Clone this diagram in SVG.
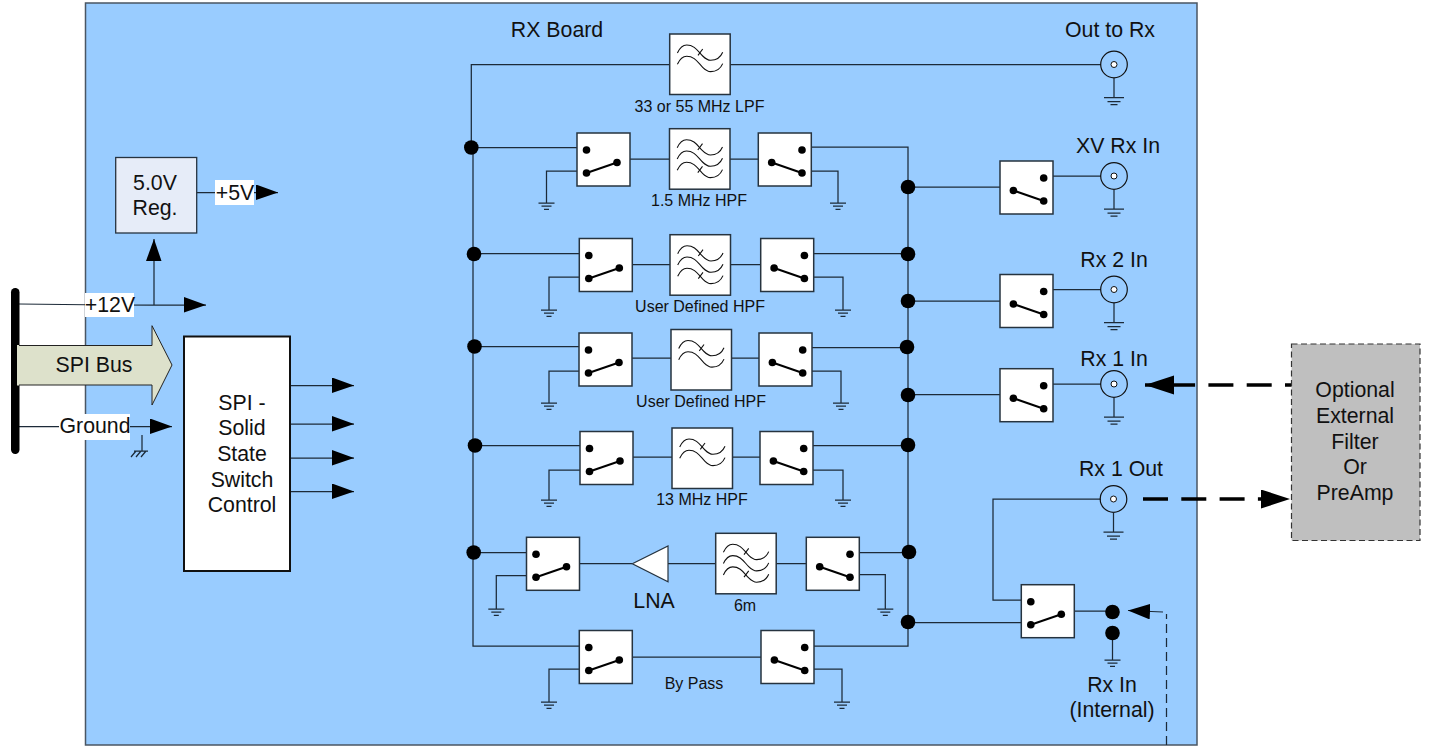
<svg xmlns="http://www.w3.org/2000/svg" width="1429" height="746" viewBox="0 0 1429 746">
<style>
text{font-family:"Liberation Sans",Arial,sans-serif;font-size:21.3px;fill:#111;text-anchor:middle}
text.s{font-size:16px}
.w{fill:none;stroke:#1c2a38;stroke-width:1.25}
.box{fill:#fff;stroke:#26333f;stroke-width:1.5}
.wave{fill:none;stroke:#111;stroke-width:1.1}
.thick{fill:none;stroke:#000;stroke-width:3.4}
.d{fill:#000}
</style>
<defs>
<marker id="arr" markerUnits="userSpaceOnUse" markerWidth="23" markerHeight="16" refX="22" refY="8" orient="auto"><path d="M0 0L22 8L0 15.500Z" fill="#000"/></marker>
<marker id="arrb" markerUnits="userSpaceOnUse" markerWidth="30" markerHeight="20" refX="29" refY="9.500" orient="auto"><path d="M0 0L29 9.500L0 19Z" fill="#000"/></marker>
<g id="swL"><rect class="box" width="53" height="53"/><circle class="d" cx="9.500" cy="17" r="3.800"/><circle class="d" cx="9.500" cy="40" r="3.800"/><circle class="d" cx="40" cy="29.500" r="3.800"/><path d="M9.500 40L40 29.500" stroke="#000" stroke-width="2"/></g>
<g id="swR"><rect class="box" width="53" height="53"/><circle class="d" cx="43.700" cy="17" r="3.800"/><circle class="d" cx="43.700" cy="40" r="3.800"/><circle class="d" cx="13.400" cy="29.500" r="3.800"/><path d="M13.400 29.500L43.700 40" stroke="#000" stroke-width="2"/></g>
<path id="wv" class="wave" d="M7.700 19C10 14 13 11 17 11C25 11 28 17 33 22C36 25 38 26.300 41 26.300C47 26.300 51 23 53 18.300"/>
<g id="f2"><rect class="box" width="60.500" height="60.500"/><use href="#wv"/><use href="#wv" y="11.300"/><path class="wave" d="M28.300 21.300L33 15"/></g>
<g id="f3"><rect class="box" width="60.500" height="60.500"/><use href="#wv"/><use href="#wv" y="11.300"/><use href="#wv" y="22.600"/><path class="wave" d="M28.300 21.300L33 15M28.300 43.900L33 37.600"/></g>
<g id="gnd"><path class="w" d="M-8 0H8M-5 3.200H5M-2.500 6.400H2.500"/></g>
<g id="gndL"><path class="w" d="M-10 0H10M-6.500 4H6.500M-3.500 7H3.500"/></g>
<g id="bnc"><circle r="13.300" fill="none" stroke="#111" stroke-width="1.200"/><path class="w" d="M0 13.300V33"/><use href="#gndL" y="33"/></g>
</defs>

<rect id="board" x="85.500" y="3" width="1111.500" height="742" fill="#99ccff" stroke="#4a5663" stroke-width="1.500"/>

<g id="connectors">
<path class="w" d="M669 64.500H471.300V148M730 64.500H1101"/>
<path class="w" d="M473 148V646H579M814 646H908V147H812"/>
<path class="w" d="M471 147.500H577M630 159H670M730 159H758M577 171H546.500V203M812 171H838V203"/>
<path class="w" d="M474 253.500H579M632 264.500H670M731 264.500H761M814 253.500H908M579 277H549V310M814 277H843V310"/>
<path class="w" d="M474 346.500H579M632 358H671M731 358H759M812 347.500H908M579 371H549V403M812 371H841V403"/>
<path class="w" d="M475 445.500H580M633 457H672M733 457H760M813 445.500H908M580 470H549V500M813 470H843V500"/>
<path class="w" d="M474 552.500H527M580 563.500H632M668 563.500H716M776 563.500H806M859 552.500H908M527 575.500H496.300V609M859 574.500H885.300V609"/>
<path class="w" d="M632 657H761M579 669H549V702M814 669H842V702"/>
<path class="w" d="M908 187H1000M908 301H1000M908 394.500H1000M908 622.500H1021"/>
<path class="w" d="M1053 176H1101M1053 289.500H1101M1053 384H1101"/>
<path class="w" d="M1021 600H993V499H1101M1074 611H1112"/>
<path class="w" d="M1112.500 633V660"/>
<path class="w" d="M19 304L108 305H154M154 305H206" marker-end="url(#arr)"/>
<path class="w" d="M154 305V239" marker-end="url(#arr)"/>
<path class="w" d="M193 192.500H278" marker-end="url(#arr)"/>
<path class="w" d="M19 426.500H172" marker-end="url(#arr)"/>
<path class="w" d="M142 435V451"/>
<path class="w" d="M131 457L136 451M136 457L141 451M141 457L146 451M134 451H148"/>
<path class="w" d="M290 385.500H354" marker-end="url(#arr)"/>
<path class="w" d="M290 424H354" marker-end="url(#arr)"/>
<path class="w" d="M290 458H354" marker-end="url(#arr)"/>
<path class="w" d="M290 491.500H354" marker-end="url(#arr)"/>
<path class="thick" d="M1293 385H1195" stroke-dasharray="25 13.300" stroke-dashoffset="17"/>
<path class="thick" d="M1195 385H1145" marker-end="url(#arrb)"/>
<path class="thick" d="M1143 499H1290" stroke-dasharray="25 13.300" marker-end="url(#arrb)"/>
<path class="w" d="M1166.500 745V614" stroke-dasharray="9 5"/>
<path class="w" d="M1163 612L1128 610.500" marker-end="url(#arr)"/>
</g>

<g id="junctions" class="d">
<circle cx="471.300" cy="147.500" r="7.300"/><circle cx="474" cy="254" r="7.300"/><circle cx="474.500" cy="346.500" r="7.300"/><circle cx="475" cy="445.500" r="7.300"/><circle cx="473.700" cy="552.500" r="7.300"/>
<circle cx="908" cy="187" r="7.300"/><circle cx="908" cy="254" r="7.300"/><circle cx="908" cy="301" r="7.300"/><circle cx="907" cy="347" r="7.300"/><circle cx="908" cy="395" r="7.300"/><circle cx="908" cy="445" r="7.300"/><circle cx="909" cy="552" r="7.300"/><circle cx="908" cy="622" r="7.300"/>
<circle cx="1112.500" cy="612" r="7.300"/><circle cx="1112.500" cy="633" r="7.300"/>
</g>

<g id="grounds">
<use href="#gnd" x="546.500" y="203"/><use href="#gnd" x="838" y="203"/>
<use href="#gnd" x="549" y="310"/><use href="#gnd" x="843" y="310"/>
<use href="#gnd" x="549" y="403"/><use href="#gnd" x="841" y="403"/>
<use href="#gnd" x="549" y="500"/><use href="#gnd" x="843" y="500"/>
<use href="#gnd" x="496.300" y="609"/><use href="#gnd" x="885.300" y="609"/>
<use href="#gnd" x="549" y="702"/><use href="#gnd" x="842" y="702"/>
<use href="#gnd" x="1112.500" y="660"/>
</g>

<g id="f-lpf"><use href="#f2" x="669.700" y="34"/><text class="s" x="699.500" y="112">33 or 55 MHz LPF</text></g>
<g id="row1"><use href="#swL" x="577" y="133"/><use href="#f3" x="669.500" y="128.700"/><use href="#swR" x="758.300" y="133"/><text class="s" x="699" y="206">1.5 MHz HPF</text></g>
<g id="row2"><use href="#swL" x="579.300" y="238.500"/><use href="#f3" x="670" y="234.700"/><use href="#swR" x="760.700" y="238.500"/><text class="s" x="700" y="312">User Defined HPF</text></g>
<g id="row3"><use href="#swL" x="579" y="333"/><use href="#f2" x="671" y="329.500"/><use href="#swR" x="759" y="333"/><text class="s" x="701" y="407">User Defined HPF</text></g>
<g id="row4"><use href="#swL" x="580" y="431.500"/><use href="#f2" x="672" y="428"/><use href="#swR" x="760" y="431.500"/><text class="s" x="702" y="505">13 MHz HPF</text></g>
<g id="row5"><use href="#swL" x="526.500" y="537.300"/><path id="lna" d="M632.300 563.700L668 546V581.700Z" fill="#fff" stroke="#26333f" stroke-width="1.200"/><use href="#f3" x="715.700" y="533.300"/><use href="#swR" x="806.300" y="537.300"/><text x="654" y="608">LNA</text><text class="s" x="745" y="611">6m</text></g>
<g id="bypass"><use href="#swL" x="579.300" y="630.500"/><use href="#swR" x="761" y="630.500"/><text class="s" x="694" y="689">By Pass</text></g>

<g id="sw-xv"><use href="#swR" x="1000" y="161"/></g>
<g id="sw-rx2"><use href="#swR" x="1000" y="274.500"/></g>
<g id="sw-rx1"><use href="#swR" x="1000" y="368.700"/></g>
<g id="sw-out"><use href="#swL" x="1021.300" y="584.700"/></g>

<g id="bnc-out"><use href="#bnc" x="1114" y="64.500"/><circle cx="1114" cy="64.500" r="3" fill="#fff" stroke="#111"/><text x="1110" y="37">Out to Rx</text></g>
<g id="bnc-xv"><use href="#bnc" x="1114" y="176"/><circle cx="1114" cy="176" r="3" fill="#fff" stroke="#111"/><text x="1118" y="153">XV Rx In</text></g>
<g id="bnc-rx2"><use href="#bnc" x="1114" y="289.500"/><circle cx="1114" cy="289.500" r="3" fill="#fff" stroke="#111"/><text x="1114" y="267">Rx 2 In</text></g>
<g id="bnc-rx1"><use href="#bnc" x="1114" y="384"/><circle cx="1114" cy="384" r="3" fill="#fff" stroke="#111"/><text x="1114" y="366">Rx 1 In</text></g>
<g id="bnc-rx1out"><use href="#bnc" x="1113.500" y="499"/><circle cx="1113.500" cy="499" r="3" fill="#fff" stroke="#111"/><text x="1121" y="476">Rx 1 Out</text></g>

<text x="557" y="37">RX Board</text>
<text x="1112" y="692">Rx In</text><text x="1112" y="717">(Internal)</text>

<g id="reg"><rect x="115.700" y="157.500" width="81" height="75.500" fill="#e6ecf8" stroke="#26333f" stroke-width="1.300"/><text x="155" y="190">5.0V</text><text x="155" y="215">Reg.</text></g>
<g id="l5v"><rect x="215" y="180" width="39" height="25" fill="#fff"/><text x="235" y="200">+5V</text></g>
<g id="l12v"><rect x="85" y="293" width="49" height="24" fill="#fff"/><text x="110" y="312">+12V</text></g>
<g id="lgnd"><rect x="59" y="414" width="71" height="26" fill="#fff"/><text x="95" y="433">Ground</text></g>
<rect id="bus" x="11" y="288" width="8.500" height="166" rx="4.200" fill="#000"/>
<g id="spibus"><path d="M18 345.500H152V325.700L172 365L152 405V385H18Z" fill="#dde1cb" stroke="#222" stroke-width="1"/><path d="M18 345V385.500" stroke="#dde1cb" stroke-width="2"/><text x="94" y="372">SPI Bus</text></g>
<g id="spi"><rect x="184" y="336.500" width="106" height="234.500" fill="#fff" stroke="#111" stroke-width="2"/><text x="242" y="410">SPI -</text><text x="242" y="435">Solid</text><text x="242" y="461">State</text><text x="242" y="487">Switch</text><text x="242" y="512">Control</text></g>
<g id="ext"><rect x="1291.500" y="344" width="128.500" height="196.500" fill="#bfbfbf" stroke="#333" stroke-width="1.200" stroke-dasharray="6 3.500"/><text x="1355" y="397">Optional</text><text x="1355" y="423">External</text><text x="1355" y="449">Filter</text><text x="1355" y="474">Or</text><text x="1355" y="500">PreAmp</text></g>
</svg>
